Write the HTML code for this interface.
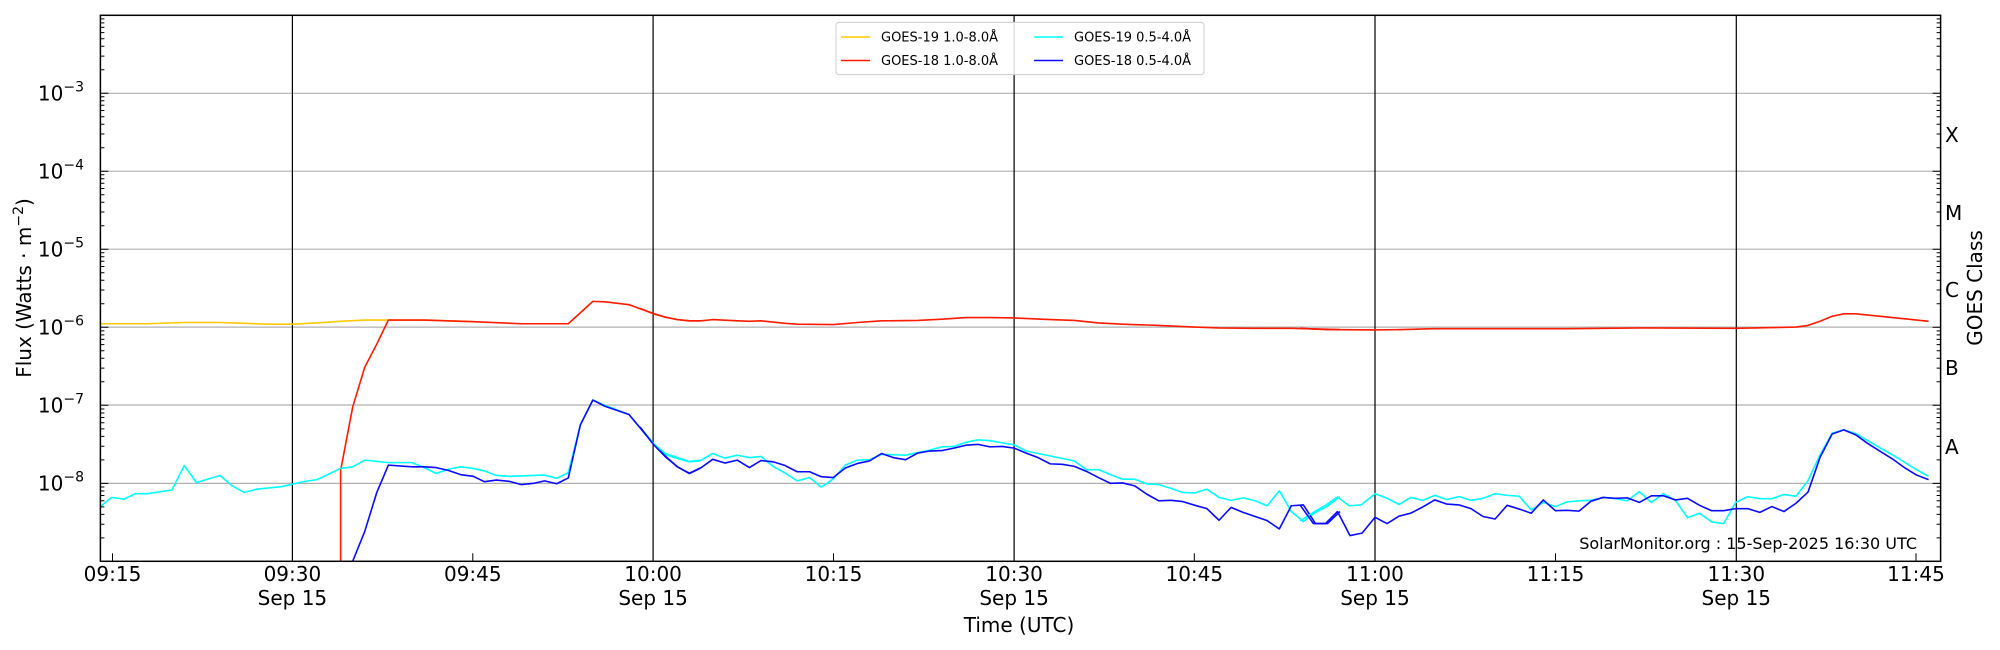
<!DOCTYPE html>
<html><head><meta charset="utf-8"><style>
html,body{margin:0;padding:0;background:#fff}
svg{display:block}
text{font-family:"DejaVu Sans","Liberation Sans",sans-serif;fill:#000}
</style></head><body>
<svg width="2000" height="650" viewBox="0 0 2000 650" xmlns="http://www.w3.org/2000/svg">
<defs>
<clipPath id="pc"><rect x="100.4" y="15.3" width="1840.2" height="546"/></clipPath>
<g id="dec" stroke="#000" stroke-width="1" fill="none">
<path d="M100.4,0h8M100.4,-23.5h4M100.4,-37.2h4M100.4,-47h4M100.4,-54.5h4M100.4,-60.7h4M100.4,-65.9h4M100.4,-70.4h4M100.4,-74.4h4"/>
<path d="M1940.6,0h-8M1940.6,-23.5h-4M1940.6,-37.2h-4M1940.6,-47h-4M1940.6,-54.5h-4M1940.6,-60.7h-4M1940.6,-65.9h-4M1940.6,-70.4h-4M1940.6,-74.4h-4"/>
</g>
</defs>
<g stroke="#b0b0b0" stroke-width="1.2">
<line x1="100.4" x2="1940.6" y1="93.3" y2="93.3"/>
<line x1="100.4" x2="1940.6" y1="171.2" y2="171.2"/>
<line x1="100.4" x2="1940.6" y1="249.2" y2="249.2"/>
<line x1="100.4" x2="1940.6" y1="327.1" y2="327.1"/>
<line x1="100.4" x2="1940.6" y1="405" y2="405"/>
<line x1="100.4" x2="1940.6" y1="483.4" y2="483.4"/>
</g>
<g stroke="#000" stroke-width="1.2">
<line x1="292.4" x2="292.4" y1="15.3" y2="561.3"/>
<line x1="653.1" x2="653.1" y1="15.3" y2="561.3"/>
<line x1="1014.1" x2="1014.1" y1="15.3" y2="561.3"/>
<line x1="1375" x2="1375" y1="15.3" y2="561.3"/>
<line x1="1736.3" x2="1736.3" y1="15.3" y2="561.3"/>
</g>
<g clip-path="url(#pc)" fill="none" stroke-width="1.6" stroke-linejoin="round">
<g transform="translate(0,0) scale(0.44643,0.41454)">
<polyline vector-effect="non-scaling-stroke" stroke="#ffc800" points="225,781 330,781 413,778 493,778 547,780 600,782 655,782 710,779 763,775 817,772 870,772 950,772 1060,776"/>
<polyline vector-effect="non-scaling-stroke" stroke="#ff1a00" points="763,1400 763,1135 790,982 817,886 844,830 870,772 950,772 1060,776 1168,781 1273,781 1328,727 1355,728 1409,735 1463,756 1490,765 1517,771 1545,774 1568,774"/>
<polyline vector-effect="non-scaling-stroke" stroke="#00ffff" points="225,1222 250,1200 278,1204 303,1191 330,1191 385,1182 413,1123 440,1164 493,1147 520,1172 547,1188 575,1180 630,1174 680,1162 710,1157 763,1130 790,1126 817,1110 870,1116 923,1116 950,1128 977,1142 1005,1132 1032,1126 1060,1130 1085,1136 1112,1147 1140,1149 1220,1146 1247,1154 1273,1140 1300,1025 1328,965 1355,978 1409,1000 1463,1070 1490,1096 1517,1106 1545,1114 1568,1112"/>
<polyline vector-effect="non-scaling-stroke" stroke="#0a0aff" points="763,1400 790,1354 817,1282 844,1188 870,1122 923,1126 950,1126 977,1128 1005,1135 1032,1145 1060,1149 1085,1162 1112,1158 1140,1161 1168,1169 1195,1166 1220,1160 1247,1167 1273,1153 1300,1025 1328,965 1355,980 1409,1000 1463,1070 1490,1100 1517,1126 1545,1142 1568,1130"/>
</g>
<g transform="translate(640,0) scale(0.44643,0.41454)">
<polyline vector-effect="non-scaling-stroke" stroke="#ff1a00" points="0,744 30,757 57,765 84,771 110,774 137,774 163,771 218,774 245,775 271,774 325,780 352,782 433,783 487,778 541,774 622,773 676,770 730,766 784,766 838,767 919,771 973,773 1027,779 1081,782 1162,785 1243,789 1297,791 1378,792 1459,792 1568,795"/>
<polyline vector-effect="non-scaling-stroke" stroke="#00ffff" points="0,1030 30,1070 57,1094 84,1104 110,1113 137,1110 163,1094 190,1105 218,1098 245,1104 271,1101 298,1125 325,1141 352,1160 380,1152 406,1175 433,1155 460,1122 487,1110 514,1109 541,1096 568,1097 595,1098 622,1092 649,1086 676,1078 703,1077 730,1067 757,1061 784,1063 811,1068 838,1073 865,1088 892,1094 919,1100 946,1106 973,1112 1000,1133 1027,1133 1054,1145 1081,1156 1108,1156 1135,1167 1162,1169 1189,1178 1216,1188 1243,1189 1270,1180 1297,1200 1324,1207 1351,1201 1378,1208 1405,1220 1432,1184 1459,1234 1486,1258 1513,1236 1540,1221 1568,1198"/>
<polyline vector-effect="non-scaling-stroke" stroke="#0a0aff" points="0,1030 30,1072 57,1102 84,1126 110,1142 137,1128 163,1108 190,1117 218,1110 245,1128 271,1111 298,1114 325,1123 352,1138 380,1138 406,1150 433,1152 460,1129 487,1118 514,1112 541,1094 568,1104 595,1109 622,1093 649,1088 676,1087 703,1081 730,1074 757,1072 784,1078 811,1077 838,1081 865,1093 892,1104 919,1119 946,1120 973,1125 1000,1137 1027,1152 1054,1166 1081,1165 1108,1172 1135,1192 1162,1208 1189,1207 1216,1210 1243,1219 1270,1227 1297,1255 1324,1224 1351,1236 1378,1246 1405,1256 1432,1276 1459,1220 1486,1218 1513,1263 1540,1263 1568,1234"/>
</g>
<g transform="translate(1300,0) scale(0.44643,0.41454)">
<polyline vector-effect="non-scaling-stroke" stroke="#ff1a00" points="0,792 57,795 168,796 230,795 300,793 600,793 760,791 976,792 1111,789 1138,785 1165,775 1192,763 1218,757 1245,757 1300,763 1354,769 1408,775"/>
<polyline vector-effect="non-scaling-stroke" stroke="#00ffff" points="0,1257 30,1236 57,1219 84,1199 110,1220 137,1218 168,1191 195,1202 222,1217 248,1200 275,1207 302,1195 329,1205 356,1198 383,1207 410,1202 437,1191 464,1195 491,1197 518,1230 545,1212 572,1222 598,1211 625,1208 652,1207 679,1200 706,1203 733,1208 760,1186 787,1212 814,1191 841,1207 868,1249 895,1238 922,1259 949,1263 976,1212 1003,1198 1030,1203 1057,1203 1084,1193 1111,1197 1138,1159 1165,1097 1192,1045 1218,1037 1245,1046 1300,1081 1327,1097 1354,1115 1381,1133 1408,1149"/>
<polyline vector-effect="non-scaling-stroke" stroke="#0a0aff" points="0,1218 30,1263 57,1263 84,1234 112,1292 139,1286 168,1248 195,1263 222,1245 248,1238 275,1223 302,1206 329,1216 356,1218 383,1227 410,1246 437,1252 464,1219 491,1228 518,1238 545,1206 572,1232 598,1231 625,1233 652,1209 679,1200 706,1202 733,1201 760,1212 787,1196 814,1196 841,1206 868,1202 895,1219 922,1232 949,1232 976,1227 1003,1227 1030,1236 1057,1222 1084,1234 1111,1214 1138,1187 1165,1103 1192,1047 1218,1037 1245,1049 1272,1070 1300,1089 1327,1107 1354,1128 1381,1146 1408,1157"/>
</g>
</g>
<use href="#dec" y="561.4"/><use href="#dec" y="483.4"/><use href="#dec" y="405.3"/><use href="#dec" y="327.2"/><use href="#dec" y="249.2"/><use href="#dec" y="171.2"/><use href="#dec" y="93.3"/>
<g stroke="#000" stroke-width="1">
<path d="M112.5,561.3v-8M472.8,561.3v-8M833.5,561.3v-8M1194.3,561.3v-8M1555.5,561.3v-8M1916,561.3v-8"/>
</g>
<rect x="100.4" y="15.3" width="1840.2" height="546" fill="none" stroke="#000" stroke-width="1.5"/>
<rect x="836" y="22.4" width="368" height="52.2" rx="3" fill="#fff" fill-opacity="0.85" stroke="#ccc" stroke-width="1"/>
<g stroke-width="1.6">
<line x1="841" x2="870" y1="37" y2="37" stroke="#ffc800"/>
<line x1="841" x2="870" y1="60.5" y2="60.5" stroke="#ff1a00"/>
<line x1="1034" x2="1063" y1="37" y2="37" stroke="#00ffff"/>
<line x1="1034" x2="1063" y1="60.5" y2="60.5" stroke="#0a0aff"/>
</g>
<g font-size="13">
<text x="881" y="41.5">GOES-19 1.0-8.0Å</text>
<text x="881" y="65">GOES-18 1.0-8.0Å</text>
<text x="1074" y="41.5">GOES-19 0.5-4.0Å</text>
<text x="1074" y="65">GOES-18 0.5-4.0Å</text>
</g>
<g font-size="20" text-anchor="end">
<text x="84" y="100.5">10<tspan dy="-9" font-size="14">−3</tspan></text>
<text x="84" y="178.5">10<tspan dy="-9" font-size="14">−4</tspan></text>
<text x="84" y="256.5">10<tspan dy="-9" font-size="14">−5</tspan></text>
<text x="84" y="334.5">10<tspan dy="-9" font-size="14">−6</tspan></text>
<text x="84" y="412.5">10<tspan dy="-9" font-size="14">−7</tspan></text>
<text x="84" y="490.5">10<tspan dy="-9" font-size="14">−8</tspan></text>
</g>
<text font-size="20" text-anchor="middle" transform="translate(31,288) rotate(-90)">Flux (Watts · m<tspan dy="-8" font-size="14">−2</tspan><tspan dy="8">)</tspan></text>
<g font-size="20">
<text x="1945" y="142">X</text>
<text x="1945" y="220">M</text>
<text x="1945" y="297">C</text>
<text x="1945" y="375">B</text>
<text x="1945" y="454">A</text>
</g>
<text font-size="20" text-anchor="middle" transform="translate(1982,288) rotate(-90)">GOES Class</text>
<g font-size="20" text-anchor="middle">
<text x="112.5" y="581">09:15</text>
<text x="292.4" y="581">09:30</text><text x="292.4" y="605">Sep 15</text>
<text x="472.8" y="581">09:45</text>
<text x="653.1" y="581">10:00</text><text x="653.1" y="605">Sep 15</text>
<text x="833.5" y="581">10:15</text>
<text x="1014.1" y="581">10:30</text><text x="1014.1" y="605">Sep 15</text>
<text x="1194.3" y="581">10:45</text>
<text x="1375" y="581">11:00</text><text x="1375" y="605">Sep 15</text>
<text x="1555.5" y="581">11:15</text>
<text x="1736.3" y="581">11:30</text><text x="1736.3" y="605">Sep 15</text>
<text x="1916" y="581">11:45</text>
<text x="1019" y="632">Time (UTC)</text>
</g>
<text x="1917" y="549" font-size="16" text-anchor="end">SolarMonitor.org : 15-Sep-2025 16:30 UTC</text>
</svg>
</body></html>
